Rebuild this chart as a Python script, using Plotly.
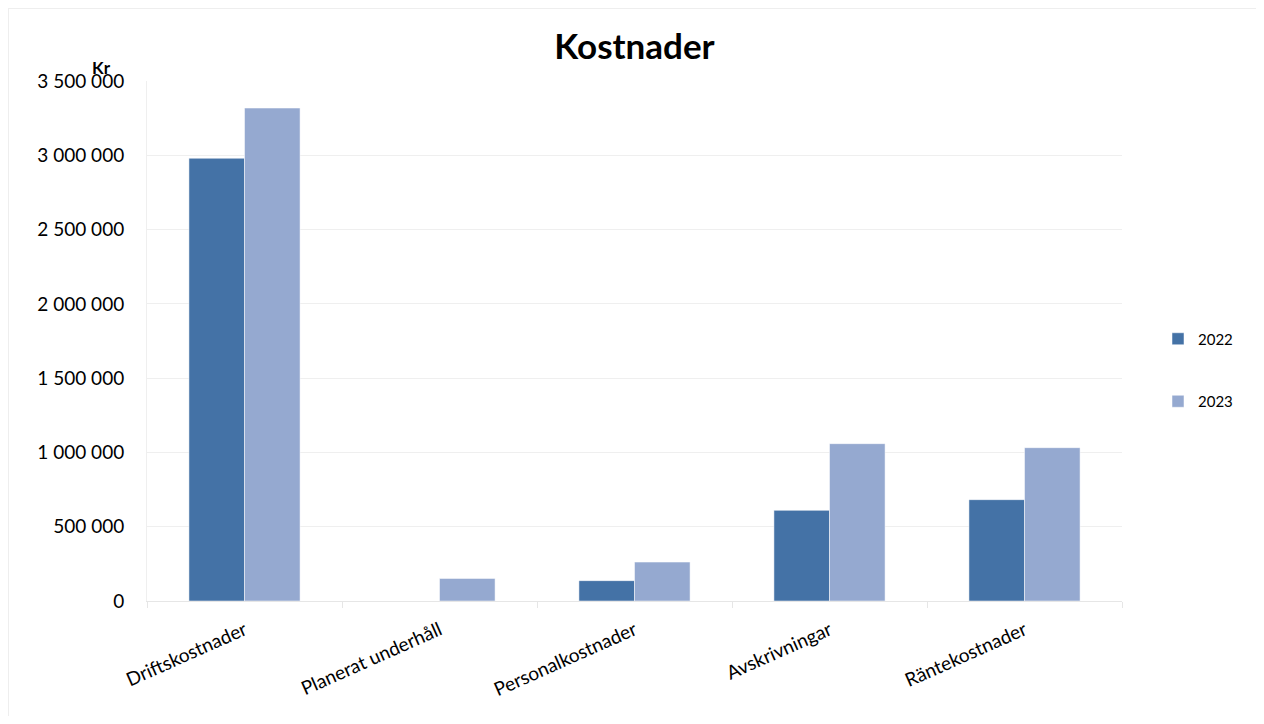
import plotly.graph_objects as go

categories = ["Driftskostnader", "Planerat underhåll", "Personalkostnader", "Avskrivningar", "Räntekostnader"]
values_2022 = [2980000, 0, 137000, 610000, 682000]
values_2023 = [3318000, 152000, 262000, 1059000, 1032000]
series_names = ["2022", "2023"]
y_tickvals = [0, 500000, 1000000, 1500000, 2000000, 2500000, 3000000, 3500000]

FONT = "Lato, 'Open Sans', sans-serif"
GRID = "#efefef"

fig = go.Figure()
fig.add_trace(go.Bar(name=series_names[0], x=categories, y=values_2022,
                     marker=dict(color="#4472a6", line=dict(color="#ffffff", width=0.5)),
                     legendgroup="a"))
fig.add_trace(go.Bar(name=series_names[1], x=categories, y=values_2023,
                     marker=dict(color="#95a9d0", line=dict(color="#ffffff", width=0.5)),
                     legendgroup="b"))

OFF = 8  # page body margin
W, H = 1248, 708
L, T = 147 - OFF, 81 - OFF
pw, ph = 975, 520
R = W - L - pw
B = H - T - ph

def px_x(p):
    return (p - OFF - L) / pw

def px_y(p):
    return (T + ph - (p - OFF)) / ph

fig.update_layout(
    width=W, height=H,
    margin=dict(l=L, r=R, t=T, b=B, pad=0),
    paper_bgcolor="white", plot_bgcolor="white",
    barmode="group", bargap=0.43, bargroupgap=0,
    separators=", ",
    font=dict(family=FONT, color="#000000"),
    title=dict(text="<b>Kostnader</b>", x=0.5, xanchor="center", y=1 - (47 - OFF) / H, yanchor="middle",
               xref="paper", font=dict(size=35, family=FONT, color="#000000")),
    legend=dict(x=px_x(1158), y=px_y(370), xanchor="left", yanchor="middle",
                font=dict(size=15, family=FONT), tracegroupgap=40, traceorder="grouped",
                itemwidth=30, bgcolor="rgba(0,0,0,0)"),
    xaxis=dict(type="category", tickson="boundaries", ticks="outside", ticklen=6,
               tickcolor="#e6e6e6", showline=True, linecolor="#e6e6e6", linewidth=1,
               showgrid=False, tickangle=-24, tickfont=dict(size=19, family=FONT),
               ticklabelstandoff=10),
    yaxis=dict(range=[0, 3500000], tickvals=y_tickvals, tickformat=",d",
               showgrid=True, gridcolor=GRID, gridwidth=1, zeroline=False,
               showline=True, linecolor=GRID, linewidth=1, ticks="",
               tickfont=dict(size=19, family=FONT), ticklabelstandoff=18),
    annotations=[dict(text="<b>Kr</b>", xref="paper", yref="paper", x=px_x(101), y=px_y(67),
                      xanchor="center", yanchor="middle", showarrow=False,
                      font=dict(size=17, family=FONT, color="#000000"))],
    shapes=[
        dict(type="line", xref="paper", yref="paper", x0=px_x(8), x1=px_x(1256), y0=px_y(8.5), y1=px_y(8.5),
             line=dict(color="#eeeeee", width=1)),
        dict(type="line", xref="paper", yref="paper", x0=px_x(8.5), x1=px_x(8.5), y0=px_y(8), y1=px_y(716),
             line=dict(color="#eeeeee", width=1)),
    ],
)

fig.write_html("out.html")
